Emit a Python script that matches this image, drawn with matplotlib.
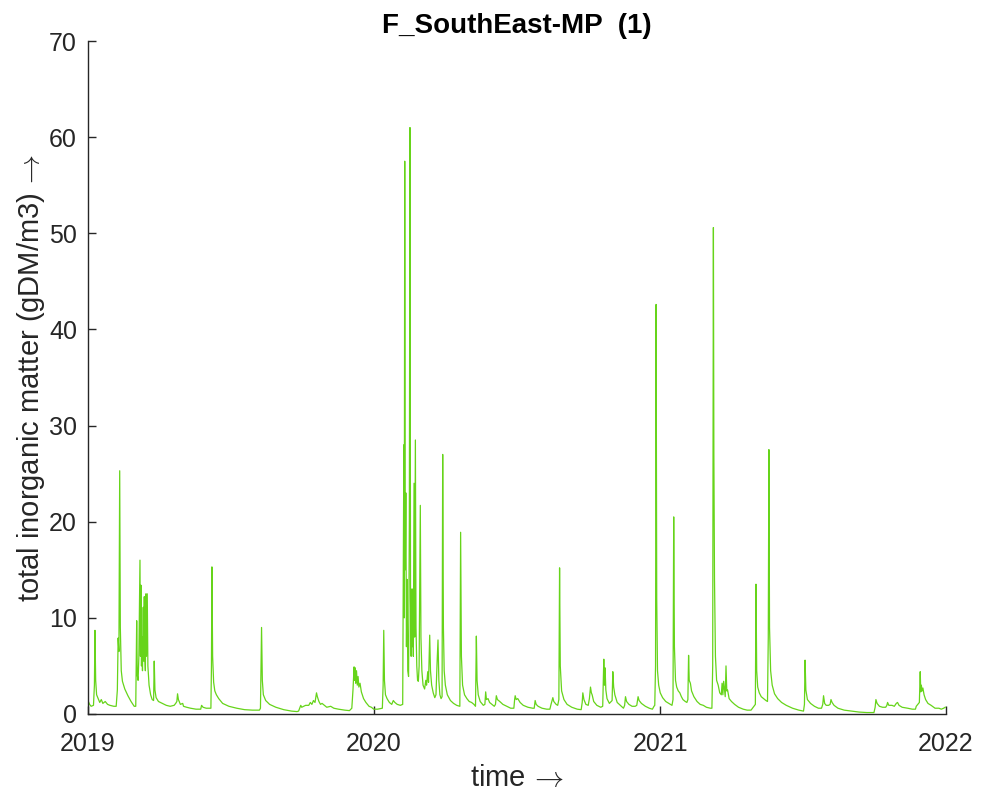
import numpy as np
import pandas as pd
import matplotlib
matplotlib.use("Agg")
import matplotlib.pyplot as plt
import matplotlib.dates as mdates

# days since 2019-01-01 and total inorganic matter (gDM/m3)
days = [
    0, 2, 4, 7, 8.2, 8.9, 9.8, 11, 13, 15, 17, 19, 22, 25, 28, 33, 36, 37.5, 38.5, 39.5,
    40.5, 41.3, 42.5, 44, 47, 51, 55, 59, 61,
    62.2, 63, 64, 65, 66.4, 67, 67.6, 68.3, 69, 69.6, 70.6, 71.2, 71.9, 72.6, 73.3, 74,
    74.7, 75.7, 76.5, 78, 80, 82, 83.8, 84.6, 85.5, 87, 90, 95, 100, 105, 110, 112,
    113.5, 114.4, 115.5, 118, 121, 122, 126, 131, 138, 144, 145.1, 147, 151, 157,
    157.7, 158.3, 159.2, 160.5, 162, 164, 167, 172, 180, 190, 200, 210, 219, 220.3,
    221.7, 222.7, 224, 227, 232, 240, 250, 260, 267, 269, 271.8, 273, 278, 282, 284,
    286, 288, 290, 291.9, 293, 295, 297, 299, 302, 305, 310, 314, 320, 328, 334, 337,
    338.5, 339.9, 340.6, 341.3, 342, 343, 344, 345, 346, 347.5, 349.2, 352, 355, 359,
    362, 365, 370, 376, 377, 377.8, 378.7, 380, 382, 385, 388, 390, 392, 395, 399, 402,
    403.5, 404, 404.6, 405.3, 406, 406.8, 407.6, 408.5, 409.5, 410.5, 411.3, 412,
    412.8, 413.6, 414.3, 415, 415.6, 416.5, 417.3, 418.2, 419, 420, 421, 422, 423,
    424.5, 425.3, 426.5, 428, 430, 431.5, 432.5, 434, 435, 436.5, 437.5, 439, 441, 443,
    444.5, 446, 447.1, 448.2, 449.5, 451, 452.3, 453.1, 454, 455, 456.5, 459, 463, 467,
    471, 475, 476, 477, 478.5, 481, 484, 487, 490, 493, 495, 496.1, 497, 498.5, 501,
    505, 507, 508, 509, 511, 513, 516, 519, 520.5, 521.6, 523, 526, 530, 535, 540, 544,
    545, 545.7, 547, 549, 552, 556, 562, 568, 570, 571.2, 572.5, 575, 580, 586, 590,
    591.5, 593.8, 595, 598, 600, 601.5, 602.4, 603.3, 605, 608, 612, 618, 625, 630,
    631.3, 632.1, 633.5, 636, 639, 640.5, 641.9, 643, 644, 646, 650, 655, 657.5, 658.9,
    659.7, 660.5, 661.5, 663, 666, 669.5, 670.4, 671.5, 673, 676, 680, 684, 685.5,
    686.6, 688, 691, 695, 699, 701, 702.7, 704, 707, 712, 717, 721, 723, 724, 725,
    725.7, 726.5, 727.5, 729, 731, 734, 738, 742, 746, 747.3, 748.2, 749.1, 750.5, 752,
    754, 756, 758, 760, 763, 765, 766.3, 767.2, 768, 769.5, 771, 774, 778, 782, 786,
    790, 795, 797, 798, 798.9, 799.5, 800.3, 801.5, 803, 805, 807, 809, 810, 811, 812,
    813, 814, 815, 816, 817, 819, 822, 826, 831, 837, 842, 847, 852.5, 853.3, 854.2,
    855.5, 857.5, 860, 863, 866, 868, 869, 869.8, 870.6, 872, 874, 877, 881, 886, 892,
    900, 908, 914, 915.2, 916, 917, 919, 923, 928, 933, 937, 938.6, 939.6, 941, 943,
    946, 948, 949.1, 950.5, 953, 958, 966, 975, 985, 995, 1004, 1005.5, 1006.5, 1008,
    1011, 1015, 1019, 1020.5, 1021.4, 1023, 1027, 1030, 1032.5, 1034.1, 1036, 1040,
    1047, 1053, 1057, 1058, 1060, 1062, 1062.5, 1063.1, 1063.8, 1064.5, 1065.5, 1066.5,
    1068, 1070, 1073, 1077, 1082, 1087, 1090, 1093, 1095,
]
tim = [
    1.4, 1.0, 0.8, 0.9, 3.0, 8.7, 3.5, 2.0, 1.6, 1.2, 1.5, 1.1, 1.3, 1.0, 0.9, 0.8, 0.8, 2.5, 7.9, 6.5,
    25.3, 9.0, 4.5, 3.4, 2.6, 1.9, 1.3, 0.8, 0.8,
    9.7, 4.0, 3.5, 6.0, 16.0, 6.0, 13.4, 5.0, 8.0, 4.5, 11.1, 5.5, 12.2, 6.0, 4.5, 12.5,
    6.0, 12.5, 5.0, 3.0, 2.0, 1.5, 1.4, 5.5, 2.5, 1.7, 1.3, 1.1, 0.9, 0.8, 0.9, 1.1,
    1.3, 2.1, 1.5, 1.0, 1.1, 0.8, 0.7, 0.6, 0.5, 0.5, 0.9, 0.7, 0.6, 0.6,
    5.0, 15.3, 6.0, 3.3, 2.4, 2.0, 1.6, 1.1, 0.8, 0.6, 0.45, 0.4, 0.4, 0.6,
    9.0, 3.5, 2.0, 1.4, 1.0, 0.7, 0.45, 0.3, 0.25, 0.3, 0.9, 0.7, 0.9, 0.9, 1.2,
    1.0, 1.4, 1.2, 2.2, 1.8, 1.3, 1.0, 1.1, 0.9, 0.7, 0.8, 0.6, 0.5, 0.4, 0.35, 0.6,
    2.5, 4.9, 3.5, 4.8, 3.2, 4.5, 3.0, 3.9, 2.8, 3.2, 2.3, 1.6, 1.2, 0.8,
    0.7, 0.5, 0.5, 0.6, 3.0, 8.7, 3.5, 2.0, 1.6, 1.2, 1.0, 1.4, 1.2, 1.0, 0.9, 1.0,
    28.0, 10.0, 57.5, 15.0, 23.0, 7.0, 14.0, 4.5, 3.9, 20.0, 61.0, 12.0,
    6.0, 13.0, 7.0, 13.0, 6.0, 24.0, 8.0, 28.5, 9.0, 5.0, 3.5, 3.4, 5.0,
    21.7, 8.0, 4.5, 3.0, 2.6, 3.5, 3.0, 4.4, 3.3, 8.2, 4.5, 3.0, 2.2, 1.7,
    2.0, 5.5, 7.7, 3.5, 2.0, 1.6, 1.8, 27.0, 9.0, 4.5, 3.0, 2.0, 1.4, 1.1,
    0.9, 0.8, 18.9, 6.0, 3.0, 2.0, 1.6, 1.3, 1.2, 1.0, 0.8, 8.1, 3.5, 2.0, 1.3,
    0.9, 1.0, 2.3, 1.5, 1.6, 1.2, 1.0, 0.8, 1.0, 1.9, 1.5, 1.3, 1.0, 0.8, 0.6, 0.6,
    1.5, 1.9, 1.5, 1.6, 1.2, 0.9, 0.7, 0.6, 0.6, 1.4, 1.0, 0.8, 0.6, 0.5, 0.5,
    1.0, 1.7, 1.3, 1.0, 0.9, 1.5, 15.2, 5.0, 2.4, 1.5, 1.0, 0.7, 0.5, 0.45,
    1.2, 2.2, 1.5, 1.0, 0.9, 1.6, 2.8, 2.2, 2.0, 1.3, 0.9, 0.7, 0.8, 5.7,
    3.0, 4.8, 2.5, 1.6, 1.1, 1.4, 4.4, 2.8, 2.0, 1.2, 0.9, 0.6, 0.9,
    1.8, 1.3, 1.0, 0.8, 0.8, 0.9, 1.8, 1.4, 1.1, 0.8, 0.6, 0.5, 0.8, 0.9, 5.0,
    42.6, 12.0, 4.5, 3.0, 2.2, 1.7, 1.3, 1.1, 0.9, 1.5, 20.5, 7.0, 3.5, 2.8,
    2.4, 2.2, 1.8, 1.5, 1.3, 1.2, 1.5, 6.1, 3.5, 3.2, 2.4, 1.8, 1.3, 1.0, 0.9,
    0.7, 0.6, 0.6, 5.0, 50.6, 27.0, 14.0, 6.0, 3.5, 3.0, 2.2, 2.0, 3.2, 2.0, 3.4,
    2.6, 1.8, 5.0, 2.4, 2.5, 1.6, 1.3, 1.0, 0.7, 0.5, 0.4, 0.4, 1.0, 13.5, 4.5,
    2.8, 2.2, 1.8, 1.6, 1.4, 1.3, 8.0, 27.5, 9.0, 4.5, 3.0, 2.1, 1.6, 1.2, 0.9,
    0.6, 0.4, 0.3, 1.0, 5.6, 2.5, 1.5, 1.1, 0.8, 0.6, 0.6, 1.0, 1.9, 1.1, 0.9,
    0.9, 1.0, 1.5, 1.2, 0.9, 0.6, 0.4, 0.3, 0.2, 0.15, 0.15, 0.7, 1.5, 1.1,
    0.8, 0.7, 0.7, 0.9, 1.2, 0.9, 0.9, 0.8, 1.1, 1.2, 0.9, 0.7,
    0.6, 0.5, 0.5, 0.8, 1.0, 1.2, 2.5, 4.4, 2.3, 3.0, 2.4, 2.7,
    2.0, 1.5, 1.1, 0.9, 0.6, 0.6, 0.5, 0.6, 0.7,
]

years = [2019, 2020, 2021, 2022]
yticks = [0, 10, 20, 30, 40, 50, 60, 70]

plt.rcParams['font.family'] = ['Liberation Sans', 'DejaVu Sans']
plt.rcParams['mathtext.fontset'] = 'cm'
axcol = '#262626'

t = pd.Timestamp('2019-01-01') + pd.to_timedelta(np.array(days), unit='D')

fig = plt.figure(figsize=(9.81, 7.92), dpi=100)
ax = fig.add_axes([0.0897, 0.0985, 0.8746, 0.8497])
ax.plot(t, tim, color='#66d41a', lw=0.9)

ax.set_xlim(pd.Timestamp('2019-01-01'), pd.Timestamp('2022-01-01'))
ax.set_ylim(0, 70)
ax.set_xticks([pd.Timestamp(f'{y}-01-01') for y in years])
ax.xaxis.set_major_formatter(mdates.DateFormatter('%Y'))
ax.set_yticks(yticks)

for s in ['top', 'right']:
    ax.spines[s].set_visible(False)
for s in ['left', 'bottom']:
    ax.spines[s].set_color(axcol)
    ax.spines[s].set_linewidth(1.0)
ax.tick_params(direction='in', length=6, width=1.0, color=axcol,
               labelcolor=axcol, labelsize=18)
ax.tick_params(axis='x', pad=13)
ax.tick_params(axis='y', pad=8)

ax.set_title('F_SouthEast-MP  (1)', fontsize=20, fontweight='bold', pad=6)
ax.set_xlabel(r'time$\,\rightarrow$', fontsize=21, color=axcol, labelpad=6)
ax.set_ylabel(r'total inorganic matter (gDM/m3)$\,\rightarrow$', fontsize=21,
              color=axcol, labelpad=1)

fig.savefig('out.png', dpi=100)
